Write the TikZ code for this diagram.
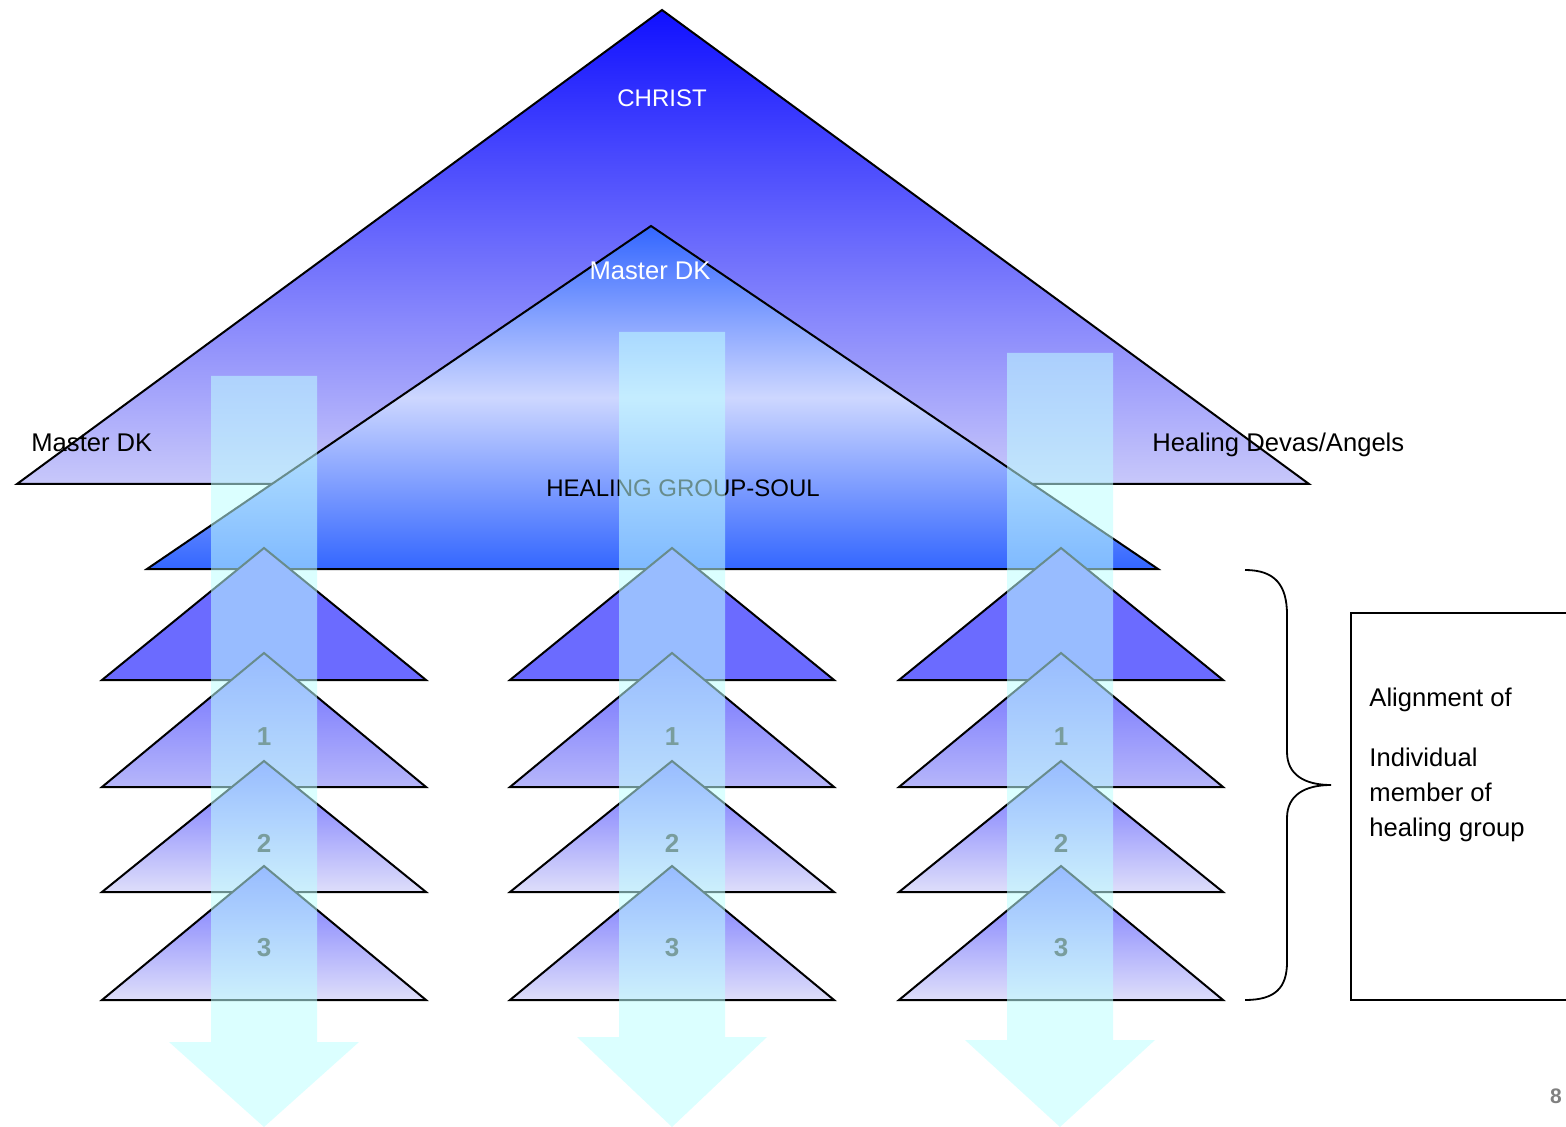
\documentclass[tikz,border=0pt]{standalone}
\usepackage{fontspec}
\setmainfont{Liberation Sans}
\definecolor{deepblue}{RGB}{16,16,255}
\definecolor{lavender}{RGB}{200,200,250}
\definecolor{soulblue}{RGB}{51,102,255}
\definecolor{soulpale}{RGB}{205,215,255}
\definecolor{rowblue}{RGB}{107,107,255}
\definecolor{rowlight}{RGB}{182,182,250}
\definecolor{rowpale}{RGB}{222,222,250}
\definecolor{beam}{RGB}{190,255,255}
\begin{document}
\begin{tikzpicture}[x=0.5pt,y=-0.5pt,
  tri/.style={draw=black,line width=1pt},
  beamarrow/.style={fill=beam,fill opacity=0.55,draw=none},
  txt/.style={font=\fontsize{12.8}{17.5}\selectfont,inner sep=0pt},
  num/.style={font=\fontsize{13}{15}\selectfont\bfseries,inner sep=0pt,text=black!85}]
  \useasboundingbox (0,0) rectangle (1566,1127);
  \draw [tri,top color=deepblue,bottom color=lavender] (662,10) -- (1309,484) -- (17,484) -- cycle;
  \draw [tri,top color=soulblue,bottom color=soulblue,middle color=soulpale] (651,226) -- (1158,569) -- (147,569) -- cycle;
  \foreach \cx/\c in {264/a,672/b,1061/c} {
    \draw [tri,fill=rowblue] (\cx,548) -- (\cx+162,680) -- (\cx-162,680) -- cycle;
    \foreach \ya/\yb/\cb in {653/787/rowlight,761/892/rowpale,866/1000/rowpale}
      \draw [tri,top color=rowblue,bottom color=\cb] (\cx,\ya) -- (\cx+162,\yb) -- (\cx-162,\yb) -- cycle;
    \node [num] (\c1) at (\cx,737) {1};
    \node [num] (\c2) at (\cx,843) {2};
    \node [num] (\c3) at (\cx,948) {3};
  }
  \node [txt,font=\fontsize{12}{14}\selectfont,text=white,anchor=base] (christ) at (662,107) {CHRIST};
  \node [txt,text=white,anchor=base] (dktop) at (650,280) {Master DK};
  \node [txt,anchor=base west] (dkleft) at (31,452) {Master DK};
  \node [txt,anchor=base west] (devas) at (1152,452) {Healing Devas/Angels};
  \node [txt,font=\fontsize{12}{14}\selectfont,anchor=base west] (soul) at (546,496) {HEALING GROUP-SOUL};
  \foreach \cx/\yt/\yh in {264/376/1042,672/332/1037,1060/353/1040}
    \fill [beamarrow] (\cx-53,\yt) -- (\cx+53,\yt) -- (\cx+53,\yh) -- (\cx+95,\yh) -- (\cx,1127) -- (\cx-95,\yh) -- (\cx-53,\yh) -- cycle;
  \draw [line width=0.9pt] (1245,570) .. controls (1275,570) and (1287,585) .. (1287,615) -- (1287,752)
    .. controls (1287,775) and (1305,785) .. (1331,785) .. controls (1305,785) and (1287,795) .. (1287,818)
    -- (1287,962) .. controls (1287,988) and (1275,1000) .. (1245,1000);
  \draw [line width=1pt] (1566,613) -- (1351,613) -- (1351,1000) -- (1566,1000);
  \node [txt,anchor=north west,align=left] (note) at (1369,688) {Alignment of\\[12.5pt]Individual\\member of\\healing group};
  \node [num,text=gray,font=\fontsize{10.5}{12}\selectfont\bfseries] (page) at (1556,1096) {8};
\end{tikzpicture}
\end{document}
